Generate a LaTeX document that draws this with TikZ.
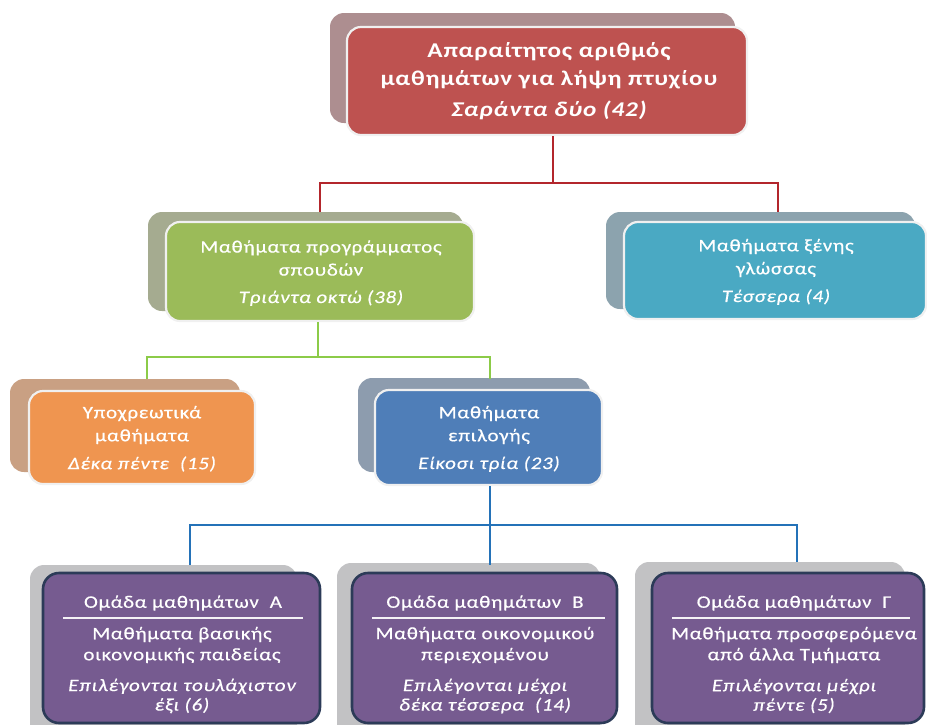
\documentclass[tikz,border=0pt]{standalone}
\usepackage{fontspec}
\setmainfont{Carlito}[LetterSpace=4,FakeStretch=1.2,UprightFeatures={FakeBold=0.5},ItalicFeatures={FakeBold=0.5}]
\usetikzlibrary{calc}
\definecolor{cRed}{HTML}{BE5250}
\definecolor{sRed}{HTML}{AD8E90}
\definecolor{cGreen}{HTML}{9BBB59}
\definecolor{sGreen}{HTML}{A5AB90}
\definecolor{cCyan}{HTML}{4AA9C3}
\definecolor{sCyan}{HTML}{8CA3AE}
\definecolor{cOrange}{HTML}{EF9550}
\definecolor{sOrange}{HTML}{C9A083}
\definecolor{cBlue}{HTML}{4F7EB8}
\definecolor{sBlue}{HTML}{8D9CAE}
\definecolor{cPurple}{HTML}{765B90}
\definecolor{sGray}{HTML}{C2C2C4}
\definecolor{cNavy}{HTML}{2C3B58}
\definecolor{lRed}{HTML}{B3262C}
\definecolor{lGreen}{HTML}{8CCB48}
\definecolor{lBlue}{HTML}{2472B8}
\tikzset{
  backcard/.style={rounded corners=14pt},
  frontcard/.style={rounded corners=14pt, draw=white!94!black, line width=2.2pt},
  purplecard/.style={rounded corners=16pt, draw=cNavy, line width=2.6pt, fill=cPurple},
  txt/.style={text=white, align=center, inner sep=0pt, font=\fontsize{17.5}{23}\selectfont},
  itxt/.style={txt, font=\fontsize{17.5}{23}\selectfont\itshape},
  ptxt/.style={txt, font=\fontsize{17.5}{21}\selectfont},
  pitxt/.style={txt, font=\fontsize{17.5}{19.5}\selectfont\itshape},
  toptxt/.style={text=white, align=center, inner sep=0pt, font=\fontsize{21}{28}\selectfont\bfseries},
  conn/.style={line width=2.4pt},
  sepline/.style={draw=white!92!cPurple, line width=1.6pt}
}
\begin{document}
\begin{tikzpicture}[x=1pt,y=-1pt]
\useasboundingbox (0,0) rectangle (927,724);
\clip (0,0) rectangle (927,724);
% ---------- top box
\fill[backcard, sRed] (330,13) rectangle (735,123);
\node[frontcard, fill=cRed, minimum width=400pt, minimum height=108pt] (top) at (547,81) {};
\node[toptxt] (topt1) at (549,52) {Απαραίτητος αριθμός};
\node[toptxt] (topt2) at (549,80) {μαθημάτων για λήψη πτυχίου};
\node[toptxt, font=\fontsize{21}{28}\selectfont\bfseries\itshape] (topt3) at (549,110) {Σαράντα δύο (42)};
% ---------- green box
\fill[backcard, sGreen] (148,212) rectangle (463,311);
\node[frontcard, fill=cGreen, minimum width=308pt, minimum height=99pt] (green) at (320,271.5) {};
\node[txt] (greent) at (321,258) {Μαθήματα προγράμματος\\σπουδών};
\node[itxt] (greeni) at (321,298) {Τριάντα οκτώ (38)};
% ---------- cyan box
\fill[backcard, sCyan] (606,212) rectangle (915,309);
\node[frontcard, fill=cCyan, minimum width=302pt, minimum height=97pt] (cyan) at (775,270.5) {};
\node[txt] (cyant) at (776,258) {Μαθήματα ξένης\\γλώσσας};
\node[itxt] (cyani) at (776,297) {Τέσσερα (4)};
% ---------- orange box
\fill[backcard, sOrange] (10,379) rectangle (240,472);
\node[frontcard, fill=cOrange, minimum width=226pt, minimum height=93pt] (orange) at (142,437.5) {};
\node[txt] (oranget) at (142,425) {Υποχρεωτικά\\μαθήματα};
\node[itxt] (orangei) at (142,464) {Δέκα πέντε\ \ (15)};
% ---------- blue box
\fill[backcard, sBlue] (358,378) rectangle (590,472);
\node[frontcard, fill=cBlue, minimum width=227pt, minimum height=95pt] (blue) at (488.5,437.5) {};
\node[txt] (bluet) at (489,425) {Μαθήματα\\επιλογής};
\node[itxt] (bluei) at (489,464) {Είκοσι τρία (23)};
% ---------- purple boxes
\fill[backcard, sGray] (30,565) rectangle (297,740);
\fill[backcard, sGray] (337,563) rectangle (600,740);
\fill[backcard, sGray] (635,562) rectangle (905,740);
\node[purplecard, minimum width=277pt, minimum height=150pt] (ga) at (181.5,648) {};
\node[purplecard, minimum width=265pt, minimum height=150pt] (gb) at (484.5,648) {};
\node[purplecard, minimum width=272pt, minimum height=150pt] (gc) at (788,648) {};
\node[ptxt] (gah) at (183,603) {Ομάδα μαθημάτων\ \ Α};
\node[ptxt] (gbh) at (485,603) {Ομάδα μαθημάτων\ \ Β};
\node[ptxt] (gch) at (794,603) {Ομάδα μαθημάτων\ \ Γ};
\draw[sepline] (63,618) -- (303,618);
\draw[sepline] (372,618) -- (605,618);
\draw[sepline] (672,618) -- (910,618);
\node[ptxt] (gab) at (182,645) {Μαθήματα βασικής\\οικονομικής παιδείας};
\node[ptxt] (gbb) at (485,645) {Μαθήματα οικονομικού\\περιεχομένου};
\node[ptxt] (gcb) at (794,645) {Μαθήματα προσφερόμενα\\από άλλα Τμήματα};
\node[pitxt] (gai) at (182,696) {Επιλέγονται τουλάχιστον\\έξι (6)};
\node[pitxt] (gbi) at (485,696) {Επιλέγονται μέχρι\\δέκα τέσσερα\ \ (14)};
\node[pitxt] (gci) at (794,696) {Επιλέγονται μέχρι\\πέντε (5)};
% ---------- connectors
\coordinate (rbus) at (553,183);
\coordinate (rl) at (320,212);
\coordinate (rr) at (778,212);
\draw[conn, lRed] (top.south -| rbus) -- (rbus);
\draw[conn, lRed] (rl) |- (rbus) -| (rr);
\coordinate (gbus) at (318,357);
\coordinate (gl) at (147,379);
\coordinate (gr) at (490,379);
\draw[conn, lGreen] (green.south -| gbus) -- (gbus);
\draw[conn, lGreen] (gl) |- (gbus) -| (gr);
\coordinate (bbus) at (490,525);
\coordinate (bl) at (190,565);
\coordinate (bm) at (490,565);
\coordinate (br) at (797,562);
\draw[conn, lBlue] (blue.south -| bbus) -- (bm);
\draw[conn, lBlue] (bl) |- (bbus) -| (br);
\end{tikzpicture}
\end{document}
